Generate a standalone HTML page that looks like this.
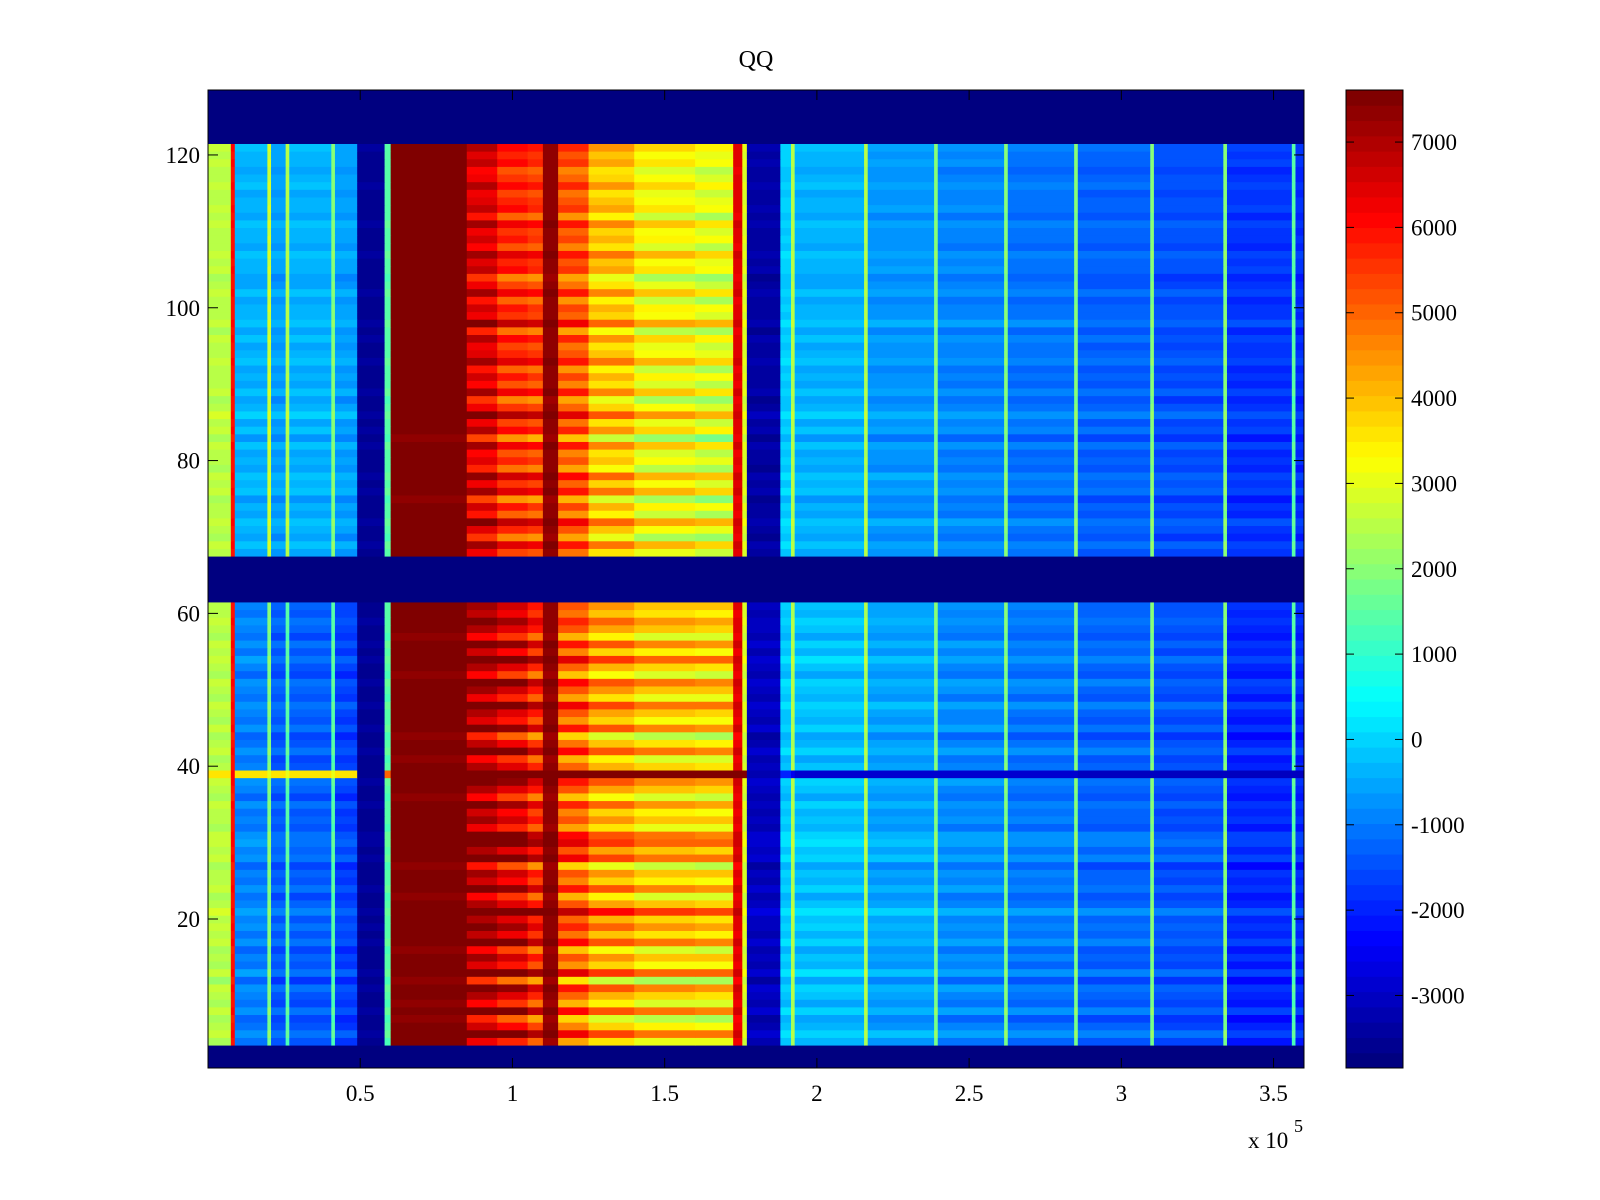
<!DOCTYPE html>
<html><head><meta charset="utf-8">
<style>
html,body{margin:0;padding:0;background:#fff;}
svg{display:block;font-family:"Liberation Serif",serif;}
</style></head>
<body>
<svg id="chart" width="1600" height="1200" viewBox="0 0 1600 1200">
<rect width="1600" height="1200" fill="#fff"/>
<text x="756" y="67" font-size="24" text-anchor="middle">QQ</text>
<g id="cells"></g>
<g id="axes"></g>
<g id="cbar"></g>
</svg>
<script>
// x segment edges (units of 1e5)
var segEdges = [0,0.075,0.088,0.195,0.207,0.255,0.267,0.405,0.417,0.49,0.58,0.60,0.85,0.95,1.05,1.10,1.15,1.25,1.40,1.60,1.725,1.755,1.77,1.88,1.915,1.927,2.155,2.167,2.385,2.397,2.615,2.627,2.845,2.857,3.095,3.107,3.335,3.347,3.56,3.572,3.60];
// values per segment, top section (rows 68-121)
var topVals = [2600,6000,-300,2800,-500,2500,-300,2000,-500,-3500,1500,7600,6800,6000,5800,7400,5500,4300,3600,3300,6500,3000,-3300,0,2500,-300,2500,-600,2000,-800,2000,-1000,2000,-1200,2000,-1400,2000,-1700,1500,-1800];
// values per segment, bottom section (rows 4-61)
var botVals = [2600,6000,-800,2000,-1200,1500,-1200,1500,-1500,-3500,1500,7600,7500,7000,6300,7400,5600,4800,4300,4200,6500,3000,-3000,0,2500,-100,2500,-400,2000,-700,2000,-900,2000,-1100,2000,-1300,2000,-1800,1500,-1800];
// sensitivity of each segment to row striping
var segSens = [0.3,0.2,0.4,0.2,0.4,0.2,0.4,0.2,0.4,0.1,0.2,0.2,1.5,1.6,1.6,0.2,1.6,1.6,1.5,1.5,0.3,0.3,0.3,0.3,0.2,0.4,0.2,0.4,0.2,0.4,0.2,0.4,0.2,0.4,0.2,0.4,0.2,0.4,0.2,0.4];
// special row 39 values per segment
var row39Vals = [3500,6000,3500,3000,3500,3000,3500,3000,3500,-3500,5000,7600,7600,7600,7600,7600,7600,7600,7600,7600,7600,7600,-3300,-2000,-2500,-2800,-2800,-2800,-2800,-2800,-2800,-2900,-2900,-3000,-3000,-3000,-3000,-3000,-3000,-3000];
// row offsets, rows 1..128
var rowOff = [0,0,0,
-800,400,-600,-1200,300,-900,-400,200,-1300,500,-700,-200,-1000,300,-500,100,-400,
800,-300,-900,200,-600,-200,-1100,400,-300,500,
300,-800,-200,-600,100,-1000,-300,200,800,-400,
-900,300,-500,-1200,200,-700,-300,400,-800,-200,
300,-1000,-400,500,-600,200,-900,-300,100,-500,
-200,
0,0,0,0,0,0,
-400,300,-800,-200,500,-600,-100,-900,300,-300,
400,-700,-200,-500,200,-1000,100,-400,600,-300,
-800,200,-500,-100,-600,300,-200,-400,100,-700,
500,-300,-100,-600,200,-400,-800,0,-200,300,
-500,-100,-300,200,-600,0,-200,-400,100,-300,
-500,0,-200,100,
0,0,0,0,0,0,0];
// empty (dark-blue) row bands [from,to]
var blueBands = [[1,3],[62,67],[122,128]];
var xTicks = [0.5,1,1.5,2,2.5,3,3.5];
var xTickLabels = ["0.5","1","1.5","2","2.5","3","3.5"];
var yTicks = [20,40,60,80,100,120];
var yTickLabels = ["20","40","60","80","100","120"];
var cTicks = [-3000,-2000,-1000,0,1000,2000,3000,4000,5000,6000,7000];
var cTickLabels = ["-3000","-2000","-1000","0","1000","2000","3000","4000","5000","6000","7000"];

var PX0=208, PX1=1304, PY0=90, PY1=1068;
var XMIN=0, XMAX=3.6, YMIN=0.5, YMAX=128.5, CMIN=-3850, CMAX=7610;
function xs(v){return PX0+(v-XMIN)/(XMAX-XMIN)*(PX1-PX0);}
function ys(v){return PY1-(v-YMIN)/(YMAX-YMIN)*(PY1-PY0);}
function cs(v){return PY1-(v-CMIN)/(CMAX-CMIN)*(PY1-PY0);}
function jet(v){
  var t=(v-CMIN)/(CMAX-CMIN); t=Math.max(0,Math.min(1,t));
  t=Math.floor(t*63.999)/63;
  function c(x){return Math.max(0,Math.min(1,x));}
  var r=c(1.5-Math.abs(4*t-3)), g=c(1.5-Math.abs(4*t-2)), b=c(1.5-Math.abs(4*t-1));
  return "rgb("+Math.round(r*255)+","+Math.round(g*255)+","+Math.round(b*255)+")";
}
var NS="http://www.w3.org/2000/svg";
function mk(tag,attrs,parent){var e=document.createElementNS(NS,tag);for(var k in attrs)e.setAttribute(k,attrs[k]);parent.appendChild(e);return e;}
function isBlue(r){for(var i=0;i<blueBands.length;i++){if(r>=blueBands[i][0]&&r<=blueBands[i][1])return true;}return false;}

var cells=document.getElementById("cells");
for(var r=1;r<=128;r++){
  var yT=ys(r+0.5), yB=ys(r-0.5);
  if(isBlue(r)){
    var e=mk("rect",{x:xs(XMIN),y:yT,width:xs(XMAX)-xs(XMIN),height:yB-yT+0.5,fill:jet(CMIN)},cells);
    
    
    continue;
  }
  for(var s=0;s<segEdges.length-1;s++){
    var v;
    if(r===39) v=row39Vals[s];
    else { var base=(r>=68)?topVals[s]:botVals[s]; v=base+rowOff[r-1]*segSens[s]; }
    var x0=xs(segEdges[s]), x1=xs(segEdges[s+1]);
    var c=mk("rect",{x:x0,y:yT,width:x1-x0+0.5,height:yB-yT+0.5,fill:jet(v)},cells);
    
    
  }
}

var ax=document.getElementById("axes");
var fr=mk("rect",{x:PX0,y:PY0,width:PX1-PX0,height:PY1-PY0,fill:"none",stroke:"#000","stroke-width":1},ax);


xTicks.forEach(function(t,i){
  var x=xs(t);
  mk("line",{x1:x,y1:PY1,x2:x,y2:PY1-10,stroke:"#000"},ax);
  mk("line",{x1:x,y1:PY0,x2:x,y2:PY0+10,stroke:"#000"},ax);
  var l=mk("text",{x:x,y:PY1+33,"font-size":23,"text-anchor":"middle"},ax);
  l.textContent=xTickLabels[i];
  
  
});
yTicks.forEach(function(t,i){
  var y=ys(t);
  mk("line",{x1:PX0,y1:y,x2:PX0+10,y2:y,stroke:"#000"},ax);
  mk("line",{x1:PX1,y1:y,x2:PX1-10,y2:y,stroke:"#000"},ax);
  var l=mk("text",{x:PX0-8,y:y+8,"font-size":23,"text-anchor":"end"},ax);
  l.textContent=yTickLabels[i];
  
  
});
var ex=mk("text",{x:1248,y:1148,"font-size":23},ax);
ex.textContent="x 10";


var ex2=mk("text",{x:1294,y:1132,"font-size":18},ax);
ex2.textContent="5";



var cb=document.getElementById("cbar");
var CX0=1346, CX1=1403;
for(var k=0;k<64;k++){
  var v0=CMIN+(CMAX-CMIN)*k/64, v1=CMIN+(CMAX-CMIN)*(k+1)/64;
  var s=mk("rect",{x:CX0,y:cs(v1),width:CX1-CX0,height:cs(v0)-cs(v1)+0.5,fill:jet((v0+v1)/2)},cb);
  
  
}
mk("rect",{x:CX0,y:PY0,width:CX1-CX0,height:PY1-PY0,fill:"none",stroke:"#000"},cb);
cTicks.forEach(function(t,i){
  var y=cs(t);
  mk("line",{x1:CX0,y1:y,x2:CX0+8,y2:y,stroke:"#000"},cb);
  mk("line",{x1:CX1,y1:y,x2:CX1-8,y2:y,stroke:"#000"},cb);
  var l=mk("text",{x:CX1+8,y:y+8,"font-size":23},cb);
  l.textContent=cTickLabels[i];
  
  
});
</script>
</body></html>
